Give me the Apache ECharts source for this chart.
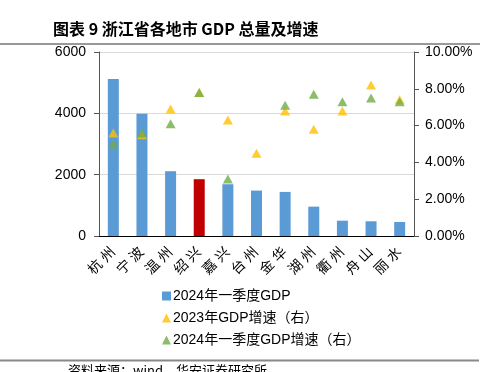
<!DOCTYPE html>
<html>
<head>
<meta charset="utf-8">
<script src="https://cdn.jsdelivr.net/npm/echarts@6/dist/echarts.min.js"></script>
<style>
html,body{margin:0;padding:0;background:#fff;}
#chart{width:487px;height:372px;}
</style>
</head>
<body>
<div id="chart"></div>
<script>
var categories = ['杭州','宁波','温州','绍兴','嘉兴','台州','金华','湖州','衢州','舟山','丽水'];
var gdp2024Q1 = [5118, 3990, 2113, 1852, 1688, 1481, 1437, 957, 500, 480, 457];
var growth2023 = [5.6, 5.5, 6.9, 7.8, 6.3, 4.5, 6.8, 5.8, 6.8, 8.2, 7.4];
var growth2024Q1 = [5.0, 5.6, 6.1, 7.8, 3.1, null, 7.1, 7.7, 7.3, 7.5, 7.3];
var leftTicks = [0, 2000, 4000, 6000];
var rightTicks = [0, 2, 4, 6, 8, 10];
var highlightCity = '绍兴';

var FONT = '"Liberation Sans", Arial, "Noto Sans CJK SC", sans-serif';
var chart = echarts.init(document.getElementById('chart'));
chart.setOption({
  animation: false,
  textStyle: {fontFamily: FONT},
  graphic: [
    {type: 'text', left: 53, top: 21, style: {text: '图表 9 浙江省各地市 GDP 总量及增速', font: 'bold 16px "Noto Sans CJK SC", sans-serif', fill: '#000'}},
    {type: 'line', shape: {x1: 0, y1: 44, x2: 480, y2: 44}, style: {stroke: '#333', lineWidth: 1}},
    {type: 'line', shape: {x1: 0, y1: 360.5, x2: 479, y2: 360.5}, style: {stroke: '#888', lineWidth: 2}},
    {type: 'text', left: 68, top: 364, style: {text: '资料来源：wind，华安证券研究所', font: '13px "Noto Sans CJK SC", sans-serif', fill: '#000'}}
  ],
  grid: {left: 99, right: 73, top: 52, bottom: 136},
  legend: {
    orient: 'vertical', left: 157, top: 284, itemGap: 8,
    itemWidth: 9, itemHeight: 9,
    textStyle: {fontSize: 14, color: '#000', fontFamily: FONT, padding: [0,0,0,-3]},
    data: [
      {name: '2024年一季度GDP', icon: 'rect', itemStyle: {color: '#5B9BD5'}},
      {name: '2023年GDP增速（右）', icon: 'triangle'},
      {name: '2024年一季度GDP增速（右）', icon: 'triangle'}
    ]
  },
  xAxis: {
    type: 'category', data: categories,
    axisLine: {lineStyle: {color: '#000', width: 1}},
    axisTick: {show: false},
    axisLabel: {rotate: 45, fontSize: 14, color: '#000', interval: 0, margin: 14,
      formatter: function (v) { return v.split('').join(' '); }}
  },
  yAxis: [
    {
      type: 'value', min: 0, max: 6000, interval: 2000,
      axisLine: {show: true, lineStyle: {color: '#555'}},
      axisTick: {show: true, length: 5, lineStyle: {color: '#555'}},
      axisLabel: {fontSize: 14, color: '#000', margin: 13, formatter: function (v) { return String(v); }},
      splitLine: {lineStyle: {color: '#d9d9d9'}}
    },
    {
      type: 'value', min: 0, max: 10, interval: 2, position: 'right',
      axisLine: {show: true, lineStyle: {color: '#555'}},
      axisTick: {show: true, length: 5, lineStyle: {color: '#555'}},
      axisLabel: {fontSize: 14, color: '#000', margin: 11, formatter: function (v) { return v.toFixed(2) + '%'; }},
      splitLine: {show: false}
    }
  ],
  series: [
    {
      name: '2024年一季度GDP', type: 'bar', data: gdp2024Q1, barWidth: 11,
      itemStyle: {color: function (p) { return categories[p.dataIndex] === highlightCity ? '#C00000' : '#5B9BD5'; }}
    },
    {
      name: '2023年GDP增速（右）', type: 'scatter', yAxisIndex: 1, data: growth2023,
      symbol: 'triangle', symbolSize: [10, 9], itemStyle: {color: '#FFC000'}
    },
    {
      name: '2024年一季度GDP增速（右）', type: 'scatter', yAxisIndex: 1, data: growth2024Q1,
      symbol: 'triangle', symbolSize: [10, 9], itemStyle: {color: '#70AD47'}
    }
  ]
});
</script>
</body>
</html>
